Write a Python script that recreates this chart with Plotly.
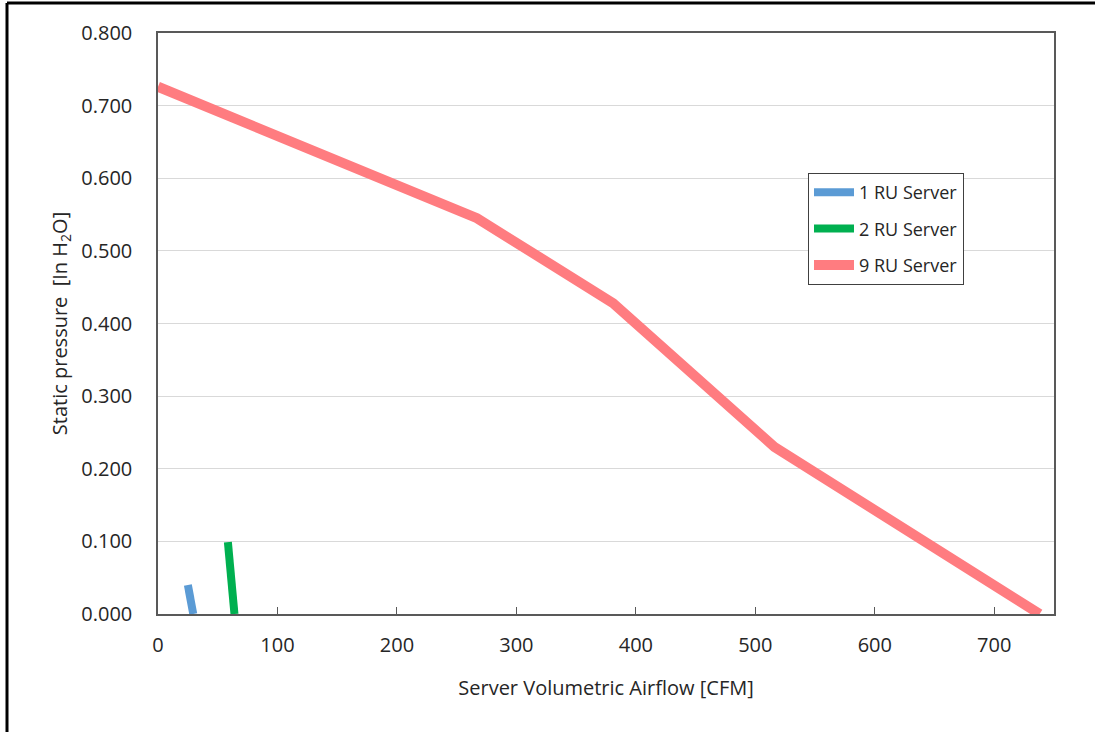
import plotly.graph_objects as go

# Data
ru1_x = [25, 29.5]
ru1_y = [0.040, 0.000]
ru2_x = [58.5, 64]
ru2_y = [0.099, 0.000]
ru9_x = [0, 267, 381, 516, 738]
ru9_y = [0.726, 0.545, 0.428, 0.230, 0.000]

x_ticks = [0, 100, 200, 300, 400, 500, 600, 700]
y_ticks = [0.0, 0.1, 0.2, 0.3, 0.4, 0.5, 0.6, 0.7, 0.8]

FONT = "Open Sans"
TXT = "#262626"

fig = go.Figure()
fig.add_trace(go.Scatter(x=ru1_x, y=ru1_y, mode="lines", name="1 RU Server",
                         legendgroup="a",
                         line=dict(color="#5B9BD5", width=8)))
fig.add_trace(go.Scatter(x=ru2_x, y=ru2_y, mode="lines", name="2 RU Server",
                         legendgroup="b",
                         line=dict(color="#00B050", width=8)))
fig.add_trace(go.Scatter(x=ru9_x, y=ru9_y, mode="lines", name="9 RU Server",
                         legendgroup="c",
                         line=dict(color="#FF7C80", width=10)))

L, R, T, B = 158, 41, 33, 118
W, H = 1095, 732
pw, ph = W - L - R, H - T - B

def px2paper_x(px):
    return (px - L) / pw

def px2paper_y(py):
    return (H - B - py) / ph

fig.update_layout(
    width=W, height=H,
    margin=dict(l=L, r=R, t=T, b=B, pad=0),
    paper_bgcolor="white", plot_bgcolor="white",
    font=dict(family=FONT, size=20, color=TXT),
    showlegend=True,
    legend=dict(x=px2paper_x(808), y=px2paper_y(173), xanchor="left", yanchor="top",
                bordercolor="#404040", borderwidth=1, bgcolor="white",
                font=dict(family=FONT, size=18, color=TXT),
                tracegroupgap=10, itemwidth=40),
    xaxis=dict(range=[0, 750], tickvals=x_ticks, ticktext=[str(v) for v in x_ticks],
               showgrid=False, zeroline=False,
               showline=True, linecolor="#595959", linewidth=1.5, mirror=True,
               ticks="inside", ticklen=7, tickcolor="#595959",
               tickfont=dict(family=FONT, size=20, color=TXT),
               ticklabelstandoff=12,
               title=dict(text="Server Volumetric Airflow [CFM]", standoff=24,
                          font=dict(family=FONT, size=20, color=TXT))),
    yaxis=dict(range=[0, 0.8], tickvals=y_ticks, ticktext=[f"{v:.3f}" for v in y_ticks],
               showgrid=True, gridcolor="#D9D9D9", gridwidth=1, zeroline=False,
               showline=True, linecolor="#595959", linewidth=1.5, mirror=True,
               ticks="", tickfont=dict(family=FONT, size=20, color=TXT),
               ticklabelstandoff=20,
               title=dict(text="Static pressure  [In H<sub>2</sub>O]", standoff=8,
                          font=dict(family=FONT, size=20, color=TXT))),
    shapes=[
        dict(type="line", xref="paper", yref="paper",
             x0=px2paper_x(7), x1=px2paper_x(W + 5), y0=px2paper_y(3), y1=px2paper_y(3),
             line=dict(color="black", width=3)),
        dict(type="line", xref="paper", yref="paper",
             x0=px2paper_x(7), x1=px2paper_x(7), y0=px2paper_y(3), y1=px2paper_y(H + 5),
             line=dict(color="black", width=3)),
    ],
)

fig.write_html("out.html")
